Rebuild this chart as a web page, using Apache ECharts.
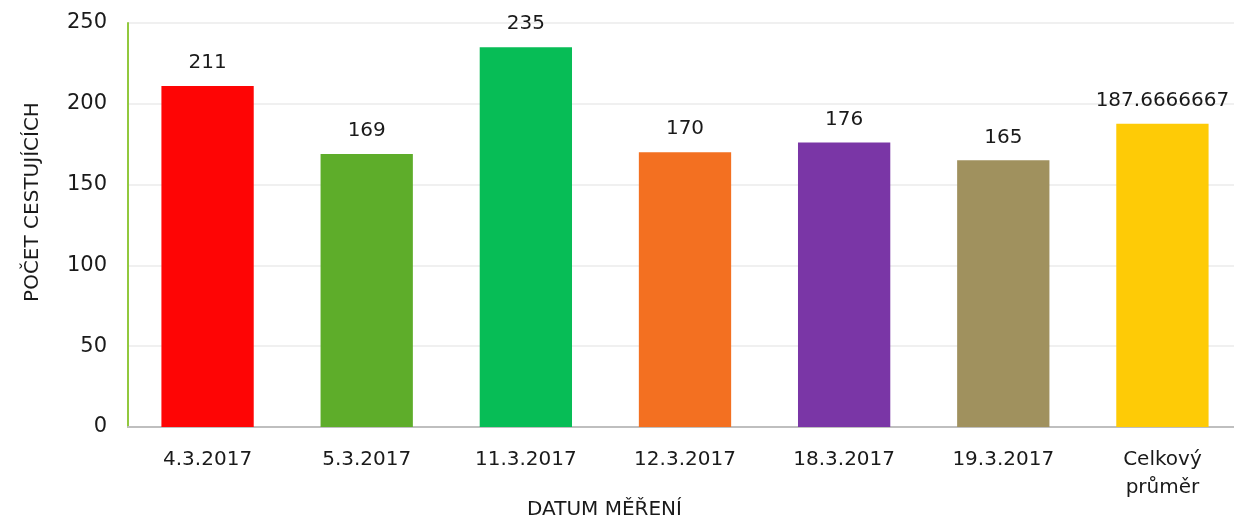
<!DOCTYPE html>
<html><head><meta charset="utf-8">
<script src="https://cdn.jsdelivr.net/npm/echarts@6/dist/echarts.min.js"></script>
<style>html,body{margin:0;padding:0;background:#fff;overflow:hidden}#c{width:1242px;height:525px}</style>
</head><body><div id="c"></div>
<script>
const categories = ['4.3.2017','5.3.2017','11.3.2017','12.3.2017','18.3.2017','19.3.2017','Celkový\nprůměr'];
const values = [211,169,235,170,176,165,187.6666667];
const barColors = ['#FE0505','#5EAD2A','#07BD56','#F37021','#7A36A6','#A0915E','#FECB06'];
const yTicks = [0,50,100,150,200,250];
const xTitle = 'DATUM MĚŘENÍ';
const yTitle = 'POČET CESTUJÍCÍCH';

const font = 'DejaVu Sans';
const chart = echarts.init(document.getElementById('c'));
chart.setOption({
  animation:false,
  grid:{left:128,right:0,top:23,height:404,containLabel:false},
  xAxis:{type:'category',data:categories,
    axisLine:{lineStyle:{color:'#BFBFBF',width:2}},
    axisTick:{show:false},
    axisLabel:{color:'#1a1a1a',fontFamily:font,fontSize:20,margin:19,lineHeight:28,interval:0}},
  yAxis:{type:'value',min:yTicks[0],max:yTicks[yTicks.length-1],interval:50,
    axisLine:{show:true,lineStyle:{color:'#92C83E',width:2}},
    axisTick:{show:false},
    splitLine:{lineStyle:{color:'#EBEBEB',width:1.5}},
    axisLabel:{color:'#1a1a1a',fontFamily:font,fontSize:21,margin:21}},
  series:[{type:'bar',barCategoryGap:'42%',
    data:values.map((v,i)=>({value:v,itemStyle:{color:barColors[i]}})),
    label:{show:true,position:'top',distance:13,color:'#1a1a1a',fontFamily:font,fontSize:20,
      formatter:p=>String(p.value)}}],
  graphic:[
    {type:'text',left:527,top:500,style:{text:xTitle,fontFamily:font,fontSize:20,fill:'#1a1a1a'}},
    {type:'text',x:33,y:202,rotation:Math.PI/2,style:{text:yTitle,fontFamily:font,fontSize:20,fill:'#1a1a1a',align:'center',verticalAlign:'middle'}}
  ]
});
</script></body></html>
